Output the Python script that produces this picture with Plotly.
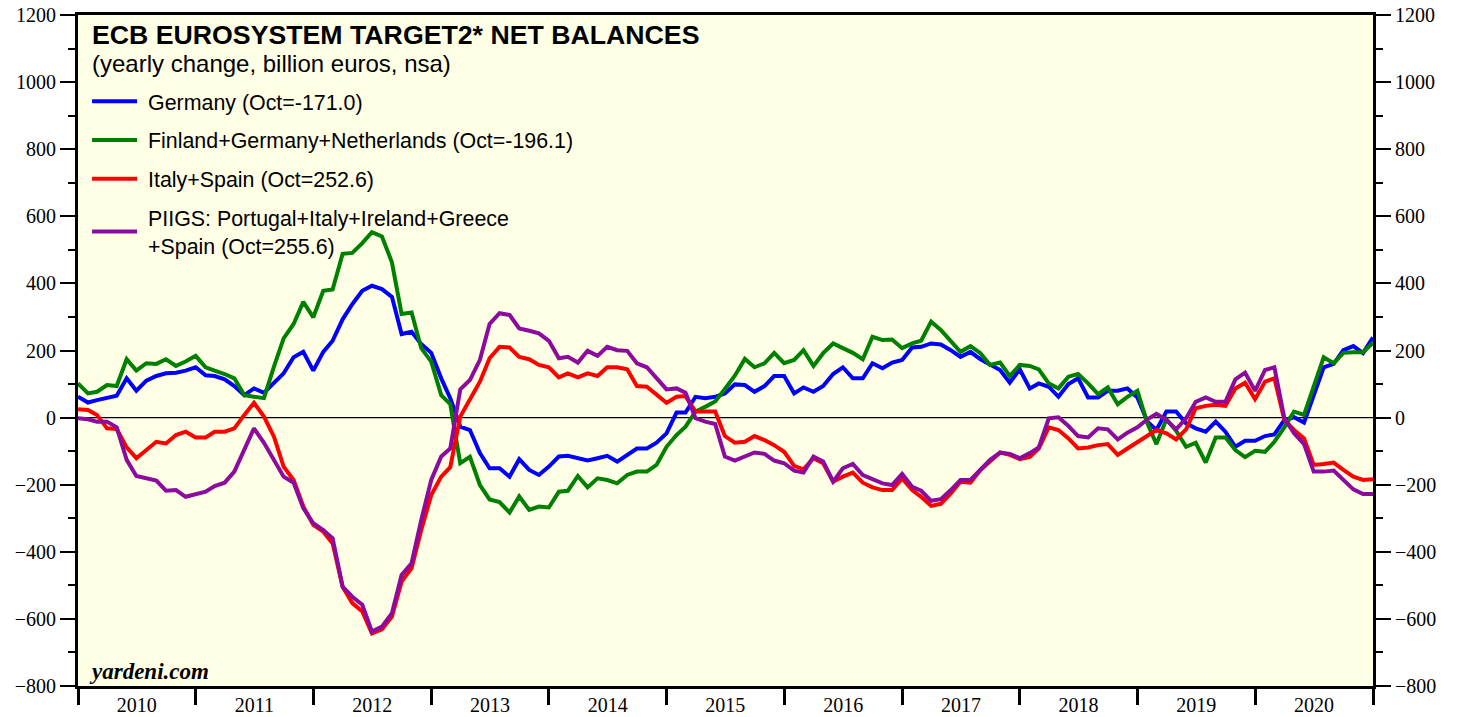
import pandas as pd
import plotly.graph_objects as go

# Monthly observations, first value Jan 2010
start_month = "2010-01-01"

germany = [62, 45, 52, 58, 65, 117, 80, 110, 124, 132, 134, 140,
           150, 126, 124, 114, 94, 67, 87, 74, 102, 132, 180, 196,
           140, 196, 229, 293, 338, 378, 393, 383, 360, 249, 256, 219,
           193, 117, 58, -27, -37, -106, -151, -151, -176, -124, -156, -171,
           -146, -116, -114, -121, -128, -121, -114, -131, -111, -92, -92, -75,
           -47, 15, 15, 62, 58, 62, 72, 99, 97, 77, 94, 124,
           124, 72, 90, 77, 94, 130, 150, 117, 117, 162, 147, 164,
           172, 209, 211, 221, 218, 201, 181, 196, 174, 159, 142, 104,
           144, 87, 102, 92, 62, 100, 117, 60, 60, 80, 80, 87,
           60, -12, -37, 18, 18, -17, -32, -42, -12, -42, -87, -69,
           -69, -55, -50, -7, 1, -15, 62, 150, 160, 201, 213, 192,
           239]

fin_ger_neth = [102, 72, 77, 97, 94, 174, 140, 162, 160, 174, 154, 167,
                184, 150, 140, 130, 117, 67, 62, 58, 152, 236, 279, 345,
                299, 378, 382, 488, 491, 520, 553, 540, 463, 309, 313, 207,
                167, 67, 40, -136, -117, -201, -244, -252, -283, -235, -275, -265,
                -268, -221, -218, -174, -208, -181, -186, -196, -171, -161, -161, -141,
                -87, -52, -27, 18, 32, 48, 85, 125, 175, 150, 162, 193,
                162, 172, 201, 154, 192, 221, 207, 193, 174, 241, 231, 233,
                207, 221, 229, 286, 261, 226, 196, 213, 192, 157, 164, 124,
                157, 154, 144, 102, 87, 122, 130, 102, 70, 90, 40, 62,
                80, -17, -79, -5, -39, -87, -75, -134, -59, -59, -97, -118,
                -99, -102, -72, -29, 18, 8, 92, 180, 162, 193, 195, 195,
                223]

italy_spain = [25, 23, 8, -32, -34, -89, -121, -97, -72, -77, -52, -42,
               -59, -59, -42, -42, -32, 8, 44, 3, -57, -146, -186, -265,
               -320, -340, -375, -504, -553, -578, -643, -631, -593, -489, -449, -335,
               -231, -176, -148, 3, 52, 107, 177, 211, 209, 181, 174, 157,
               150, 120, 132, 120, 132, 124, 150, 150, 144, 94, 92, 70,
               44, 62, 64, 18, 18, 18, -55, -75, -72, -55, -67, -82,
               -102, -144, -154, -121, -136, -191, -176, -164, -194, -208, -216, -216,
               -181, -216, -236, -263, -257, -226, -191, -194, -156, -131, -104, -111,
               -124, -117, -92, -29, -37, -62, -92, -89, -82, -79, -111, -92,
               -72, -52, -37, -47, -65, -35, 28, 35, 38, 35, 87, 104,
               55, 107, 117, -7, -37, -62, -141, -138, -134, -156, -176, -186,
               -184]

piigs = [-2, -5, -12, -12, -29, -126, -174, -181, -188, -218, -216, -236,
         -228, -221, -204, -194, -161, -94, -32, -75, -126, -176, -194, -270,
         -315, -335, -360, -504, -534, -558, -638, -623, -583, -469, -434, -305,
         -186, -116, -92, 84, 112, 172, 279, 311, 306, 266, 259, 251,
         229, 177, 181, 164, 199, 184, 211, 201, 199, 162, 150, 117,
         84, 87, 74, -2, -12, -19, -116, -128, -116, -104, -108, -128,
         -136, -158, -164, -116, -131, -191, -151, -138, -171, -184, -196, -201,
         -168, -206, -218, -248, -243, -216, -186, -186, -154, -126, -104, -108,
         -121, -106, -89, -2, 1, -25, -55, -59, -32, -35, -65, -45,
         -29, -5, 11, -7, -35, -2, 47, 60, 47, 47, 114, 134,
         80, 142, 150, -2, -47, -79, -161, -161, -158, -184, -214, -228,
         -228]

series_names = ["Germany (Oct=-171.0)",
                "Finland+Germany+Netherlands (Oct=-196.1)",
                "Italy+Spain (Oct=252.6)",
                "PIIGS: Portugal+Italy+Ireland+Greece<br>+Spain (Oct=255.6)"]
series_colors = ["#0000FF", "#008000", "#FF0000", "#8C0A9E"]

title_text = "ECB EUROSYSTEM TARGET2* NET BALANCES"
subtitle_text = "(yearly change, billion euros, nsa)"
source_text = "yardeni.com"

dates = pd.date_range(start_month, periods=len(germany), freq="MS")

NB = "\u00a0"

fig = go.Figure()
for i, (vals, name, col) in enumerate(zip([germany, fin_ger_neth, italy_spain, piigs],
                                         series_names, series_colors)):
    label = NB + name.replace("<br>", "<br>" + NB)
    fig.add_trace(go.Scatter(x=dates, y=vals, mode="lines", name=label,
                             line=dict(color=col, width=4), legendgroup=f"g{i}"))

# invisible companion trace to carry the right-hand axis
fig.add_trace(go.Scatter(x=dates, y=piigs, yaxis="y2", mode="lines",
                         line=dict(width=0), opacity=0, showlegend=False,
                         hoverinfo="skip"))

serif = "Liberation Serif, Times New Roman, serif"
sans = "Liberation Sans, Arial, sans-serif"

yaxis_common = dict(range=[-800, 1200], dtick=200, tick0=0, ticks="outside",
                    ticklen=15, tickwidth=1.5, tickcolor="black",
                    showgrid=False, zeroline=False, showline=True,
                    linecolor="black", linewidth=3, automargin=False,
                    tickfont=dict(family=serif, size=20, color="black"),
                    minor=dict(dtick=100, tick0=0, ticks="outside", ticklen=7,
                               tickwidth=1.5, tickcolor="black", showgrid=False))

fig.update_layout(
    width=1460, height=717,
    margin=dict(l=78, r=87, t=15, b=31, autoexpand=False),
    paper_bgcolor="white",
    plot_bgcolor="#FFFFE6",
    showlegend=True,
    legend=dict(x=0.007, y=0.902, xanchor="left", yanchor="top",
                bgcolor="rgba(0,0,0,0)", traceorder="grouped",
                tracegroupgap=8, itemwidth=45,
                font=dict(family=sans, size=21.4, color="black")),
    xaxis=dict(range=[pd.Timestamp("2010-01-01"), pd.Timestamp("2021-01-01")],
               type="date", dtick="M12", tick0="2010-01-01",
               tickformat="%Y", ticklabelmode="period",
               ticks="outside", ticklen=16, tickwidth=3, tickcolor="black",
               ticklabelstandoff=-17,
               showgrid=False, zeroline=False, showline=True, automargin=False,
               linecolor="black", linewidth=3, mirror=True,
               tickfont=dict(family=serif, size=20, color="black")),
    yaxis=dict(**yaxis_common, side="left", mirror=False),
    yaxis2=dict(**yaxis_common, side="right", overlaying="y", anchor="x"),
    shapes=[dict(type="line", xref="paper", x0=0, x1=1, yref="y", y0=0, y1=0,
                 line=dict(color="black", width=1.2), layer="below")],
    annotations=[
        dict(text="<b>" + title_text + "</b>", xref="paper", yref="paper",
             x=0.0093, y=0.970, xanchor="left", yanchor="middle", showarrow=False,
             font=dict(family=sans, size=26.7, color="black")),
        dict(text=subtitle_text, xref="paper", yref="paper",
             x=0.0093, y=0.927, xanchor="left", yanchor="middle", showarrow=False,
             font=dict(family=sans, size=24, color="black")),
        dict(text="<b><i>" + source_text + "</i></b>", xref="paper", yref="paper",
             x=0.007, y=0.022, xanchor="left", yanchor="middle", showarrow=False,
             font=dict(family=serif, size=23, color="black")),
    ],
)

fig.write_html("out.html", config={"displayModeBar": False},
               post_script="document.body.style.margin='0';document.body.style.overflow='hidden';")
